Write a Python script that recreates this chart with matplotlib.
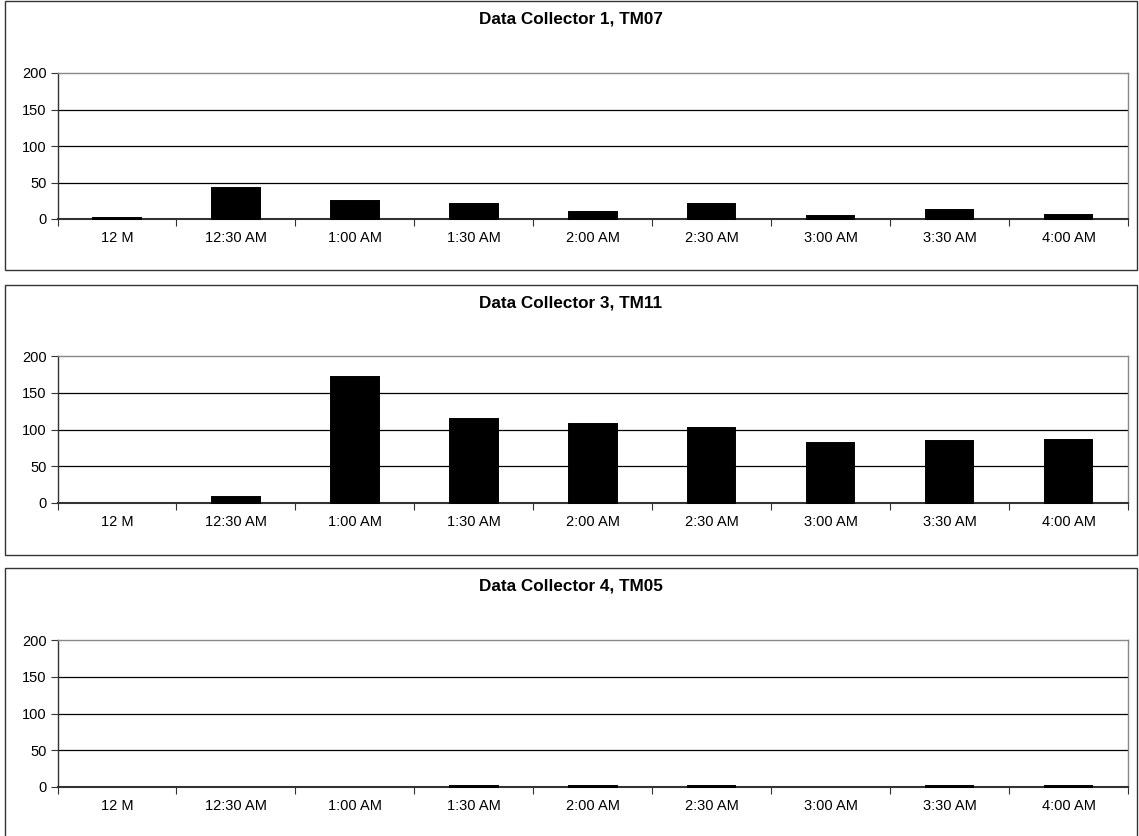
import matplotlib
matplotlib.use("Agg")
import matplotlib.pyplot as plt
from matplotlib.patches import Rectangle
import numpy as np

plt.rcParams['font.family'] = ['Liberation Sans', 'DejaVu Sans']

categories = ["12 M", "12:30 AM", "1:00 AM", "1:30 AM", "2:00 AM",
              "2:30 AM", "3:00 AM", "3:30 AM", "4:00 AM"]
titles = ["Data Collector 1, TM07", "Data Collector 3, TM11", "Data Collector 4, TM05"]
dc1_tm07 = [2, 42, 25, 21, 10, 21, 4, 12, 6]
dc3_tm11 = [0, 8, 171, 114, 108, 102, 82, 84, 86]
dc4_tm05 = [0, 0, 0, 2, 2, 2, 0, 2, 2]
series = [dc1_tm07, dc3_tm11, dc4_tm05]
yticks = [0, 50, 100, 150, 200]

W, H = 1139, 836
fig = plt.figure(figsize=(W / 100, H / 100), dpi=100)

# pixel layout: (frame_top, frame_bottom, axes_top, axes_bottom)
panels = [(1, 270, 73, 219), (285, 555, 356, 503), (568, 840, 640, 787)]
ax_left, ax_right = 57.5, 1128
frame_left, frame_right = 5, 1137

for (ft, fb, at, ab), title, vals in zip(panels, titles, series):
    # outer chart frame
    fig.patches.append(Rectangle((frame_left / W, 1 - fb / H),
                                 (frame_right - frame_left) / W, (fb - ft) / H,
                                 transform=fig.transFigure, fill=False,
                                 edgecolor='#333333', linewidth=1.0))
    fig.text((frame_left + frame_right) / 2 / W, 1 - (ft + 18) / H, title,
             ha='center', va='center', fontsize=12.3, fontweight='bold')
    ax = fig.add_axes([ax_left / W, 1 - ab / H, (ax_right - ax_left) / W, (ab - at) / H])
    x = np.arange(len(categories))
    bars = ax.bar(x, vals, width=0.4, color='black', edgecolor='black',
                  linewidth=1.4, zorder=5)
    for b, v in zip(bars, vals):
        b.set_clip_on(False)
        if v == 0:
            b.set_visible(False)
    ax.set_xlim(-0.5, len(categories) - 0.5)
    ax.set_ylim(0, 200)
    ax.set_yticks(yticks)
    ax.set_yticklabels([str(v) for v in yticks], fontsize=10.5)
    ax.set_xticks(x)
    ax.set_xticklabels(categories, fontsize=10.5)
    ax.set_xticks(np.arange(-0.5, len(categories), 1.0), minor=True)
    ax.tick_params(axis='x', which='major', length=0, pad=9)
    ax.tick_params(axis='x', which='minor', length=5, width=0.8, color='#333333', direction='out')
    ax.tick_params(axis='y', length=5, width=0.8, color='#333333', direction='out', pad=3)
    for yv in yticks[1:-1]:
        ax.axhline(yv, color='black', linewidth=0.9, zorder=1)
    for s in ['top', 'right']:
        ax.spines[s].set_color('#888888')
        ax.spines[s].set_linewidth(1.0)
    ax.spines['left'].set_color('#333333')
    ax.spines['left'].set_linewidth(1.0)
    ax.spines['bottom'].set_color('#333333')
    ax.spines['bottom'].set_linewidth(1.5)
    ax.spines['bottom'].set_zorder(4)

fig.savefig("out.png", dpi=100, facecolor='white')
